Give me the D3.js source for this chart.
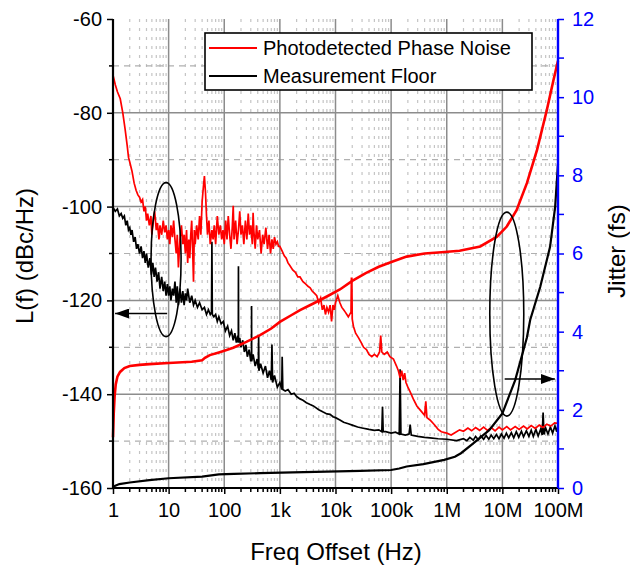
<!DOCTYPE html>
<html lang="en">
<head>
<meta charset="UTF-8">
<title>Phase Noise and Jitter</title>
<script src="https://d3js.org/d3.v7.min.js"></script>
<style>
  body { margin: 0; background: #fff; }
  text { font-family: "Liberation Sans", Arial, sans-serif; }
</style>
</head>
<body>
<script>
// Photodetected phase noise, [Hz, dBc/Hz]
const phaseNoise = [
  [1,-72],[1.1,-74],[1.2,-75.5],[1.35,-77],[1.5,-80],[1.65,-83.5],[1.8,-87],[1.9,-89.5],[2.0,-90.5],
  [2.2,-92.5],[2.4,-95],[2.6,-96.5],[2.8,-97.5],[3.0,-98],[3.2,-99],[3.4,-98.5],[3.6,-101],[3.8,-100],
  [4.0,-103],[4.2,-101.5],[4.5,-104],[4.8,-102],[5.0,-106],[5.3,-103],[5.6,-101],[6.0,-105],[6.3,-103.5],
  [6.7,-107],[7.0,-104],[7.5,-106],[8,-103],[8.5,-105.5],[9,-104],[9.5,-107],[10,-105],[10.5,-108],
  [11,-104],[11.7,-106.5],[12.3,-103],[13,-107],[13.7,-110],[14.3,-106],[15,-113],[16,-107],[17,-104],
  [18,-108],[19,-106],[20,-110],[21,-105],[22,-112],[23,-107],[24,-111],[25,-106],[26,-103],[27,-109],
  [28,-116],[29,-105],[30,-108],[32,-104],[34,-107],[36,-102],[38,-106],[40,-99],[42,-96],[44,-93.5],
  [46,-97],[48,-102],[50,-106],[53,-103],[56,-108],[60,-105],[63,-107],[66,-104],[70,-108],[75,-102],
  [80,-106],[85,-104],[90,-107],[95,-105],[100,-108],[106,-103],[112,-107],[118,-102],[125,-106],
  [132,-109],[140,-104],[145,-99.8],[150,-107],[160,-103],[170,-108],[180,-105],[190,-101],[200,-106],
  [212,-104],[225,-108],[240,-103],[255,-107],[270,-101.5],[285,-106],[300,-104],[320,-108],[330,-101.3],
  [340,-105],[360,-109],[380,-104],[400,-107],[430,-105],[460,-110],[490,-106],[520,-108],[560,-104.5],
  [600,-109],[640,-106],[680,-110],[720,-107],[760,-109],[800,-106.5],[850,-108],[900,-107.5],
  [950,-108.5],[1000,-108.5],[1100,-109.5],[1200,-110.5],[1300,-111],[1400,-112],[1500,-112.5],
  [1700,-113.5],[1900,-114],[2100,-115],[2300,-115],[2600,-116],[2900,-116.5],[3200,-117],[3500,-117.3],
  [3800,-118],[4200,-118.5],[4600,-119],[5000,-120.5],[5400,-119.5],[5800,-122],[6200,-121],[6600,-123],
  [7000,-121.5],[7500,-122.5],[8000,-121],[8500,-124.5],[9000,-121],[9500,-122],[10000,-120.5],
  [11000,-119],[12000,-120.5],[13000,-121.5],[14000,-122],[15000,-122.5],[16000,-123],[17000,-123.5],
  [19000,-122.5],[19300,-115.3],[19700,-115.3],[20000,-124],[21000,-125.5],[23000,-127],[26000,-128],
  [29000,-129],[32000,-130],[36000,-130.5],[40000,-131.5],[45000,-132],[50000,-131.5],[56000,-132],
  [62000,-131],[65000,-127.5],[68000,-131],[75000,-131.5],[85000,-131],[95000,-132],[110000,-132.5],
  [125000,-134],[135000,-135],[145000,-136.5],[155000,-135],[165000,-137],[175000,-135.5],[185000,-137.5],
  [200000,-138.5],[220000,-139.5],[250000,-141],[290000,-142.5],[340000,-143.5],[400000,-144.5],
  [420000,-141.5],[440000,-145],[500000,-145.5],[600000,-146.5],[700000,-147.5],[800000,-148],
  [1e6,-148.3],[1.2e6,-148.7],[1.4e6,-148.2],[1.7e6,-147.6],[2e6,-147.9],[2.4e6,-147.2],[2.8e6,-147.8],
  [3.3e6,-147.1],[3.9e6,-147.7],[4.6e6,-147],[5.4e6,-147.7],[6.3e6,-147.1],[7.4e6,-147.8],[8.7e6,-147],
  [1e7,-147.6],[1.2e7,-146.9],[1.4e7,-147.6],[1.7e7,-146.9],[2e7,-147.5],[2.4e7,-146.8],[2.8e7,-147.4],
  [3.3e7,-146.7],[3.9e7,-147.3],[4.6e7,-146.6],[5.4e7,-147.1],[6.3e7,-146.4],[7.4e7,-146.8],
  [8.7e7,-146.1],[1e8,-146.2]
];

// Measurement floor, [Hz, dBc/Hz]
const floorNoise = [
  [1,-100.2],[1.1,-101],[1.2,-100.5],[1.3,-102],[1.4,-101.5],[1.5,-102.5],[1.6,-102],[1.7,-104],
  [1.8,-103],[1.9,-105],[2.0,-104.5],[2.1,-106],[2.2,-105],[2.35,-107.5],[2.5,-106.5],[2.65,-109],
  [2.8,-108],[3.0,-110],[3.2,-108.5],[3.4,-111],[3.6,-109.5],[3.8,-112],[4.0,-110],[4.3,-113],
  [4.6,-111],[4.9,-114.5],[5.2,-112],[5.5,-115],[5.8,-113],[6.2,-116],[6.6,-114],[7.0,-117.5],
  [7.5,-115],[8,-118],[8.5,-116],[9,-119],[9.5,-116.5],[10,-119],[10.5,-117],[11,-120],[11.7,-117.5],
  [12.3,-119],[13,-116],[13.7,-120.5],[14.3,-117],[15,-121],[16,-117.5],[17,-120.5],[18,-118],
  [19,-121],[20,-118.5],[21,-120],[22,-117.5],[24,-120.5],[26,-119],[28,-121],[30,-120],[33,-121.5],
  [36,-120.5],[40,-122],[44,-121.5],[48,-123],[52,-122],[56,-123],[59,-122.5],[60,-107.5],[61,-123],
  [65,-123.5],[70,-123],[75,-124.5],[80,-123.5],[88,-125],[96,-124.5],[105,-126.5],[115,-125.5],
  [125,-127.5],[135,-126.5],[145,-128.5],[155,-127],[165,-129],[175,-127.5],[179,-129],[180,-112.7],
  [181,-129],[190,-128],[200,-130],[215,-128.5],[230,-131],[245,-129.5],[260,-132],[280,-130.5],
  [300,-133],[309,-131.5],[310,-121.2],[311,-133],[330,-131.5],[360,-134],[390,-132.5],[410,-134.5],
  [415,-127.6],[420,-135],[450,-133.5],[500,-135.5],[550,-134],[600,-136.5],[650,-135],[700,-137],
  [720,-129.4],[740,-137.5],[800,-136],[900,-138.5],[1000,-137.5],[1080,-139],[1100,-132],[1130,-139],
  [1250,-139.3],[1400,-139],[1600,-140],[1800,-139.8],[2000,-140.5],[2300,-141],[2600,-141.3],
  [3000,-141.8],[3500,-142.2],[4000,-142.5],[5000,-143.3],[6000,-143.8],[7000,-144.2],[8000,-144.3],
  [9000,-144.8],[10000,-145],[12000,-145.5],[14000,-146],[17000,-146.3],[20000,-146.6],[25000,-147],
  [30000,-147.2],[40000,-147.5],[50000,-147.7],[60000,-147.6],[68000,-148],[70000,-142.7],[72000,-148],
  [80000,-148],[100000,-148.3],[120000,-148.1],[140000,-148.5],[145000,-134.7],[150000,-148.5],
  [180000,-148.7],[210000,-148.5],[220000,-146.5],[230000,-148.7],[300000,-149],[400000,-149.2],
  [500000,-149.3],[700000,-149.5],[1e6,-149.6],[1.5e6,-149.9],[2e6,-149.5],[2.3e6,-149.9],
  [2.6e6,-149.2],[3e6,-149.8],[3.3e6,-149],[3.7e6,-149.7],[4.1e6,-148.9],[4.6e6,-149.6],[5.1e6,-148.8],
  [5.7e6,-149.6],[6.3e6,-148.7],[7e6,-149.5],[7.8e6,-148.6],[8.7e6,-149.5],[9.6e6,-148.5],
  [1.07e7,-149.4],[1.18e7,-148.3],[1.3e7,-149.3],[1.45e7,-148.2],[1.6e7,-149.3],[1.78e7,-148],
  [1.97e7,-149.2],[2.2e7,-147.9],[2.4e7,-149.1],[2.7e7,-147.8],[3e7,-149],[3.3e7,-147.7],[3.6e7,-149],
  [4e7,-147.5],[4.4e7,-148.9],[4.9e7,-147.4],[5.2e7,-148.7],[5.4e7,-143.9],[5.6e7,-148.6],[6e7,-147.2],
  [6.6e7,-148.5],[7.3e7,-147],[8e7,-148.3],[8.8e7,-146.8],[9.5e7,-148],[1e8,-146.5]
];

// Integrated jitter, [Hz, fs]
const jitterNoise = [
  [1,1.3],[1.03,1.9],[1.07,2.35],[1.12,2.65],[1.2,2.85],[1.34,2.97],[1.6,3.07],[2,3.12],[3,3.15],
  [4.5,3.17],[10,3.2],[26,3.23],[40,3.27],[45,3.33],[55,3.4],[80,3.47],[110,3.53],[145,3.59],
  [250,3.74],[440,3.91],[700,4.08],[1000,4.25],[1600,4.42],[2300,4.55],[4000,4.72],[7000,4.9],
  [12000,5.08],[20000,5.3],[35000,5.5],[60000,5.66],[110000,5.8],[190000,5.92],[400000,6.0],
  [800000,6.03],[1.7e6,6.07],[4e6,6.18],[8e6,6.43],[1.2e7,6.69],[1.8e7,7.11],[2.76e7,7.8],
  [4.2e7,8.65],[6.3e7,9.67],[8.3e7,10.44],[1e8,10.93]
];
const jitterFloor = [
  [1,0.02],[1.1,0.06],[1.3,0.1],[2,0.14],[4.5,0.2],[10,0.25],[40,0.29],[80,0.35],[150,0.36],
  [440,0.38],[1700,0.4],[7000,0.42],[28000,0.44],[100000,0.46],[140000,0.5],[190000,0.55],
  [380000,0.61],[900000,0.72],[1.4e6,0.8],[1.8e6,0.89],[3e6,1.14],[5.8e6,1.48],[1e7,1.91],
  [1.7e7,2.76],[2.76e7,3.85],[3.16e7,4.3],[4.8e7,5.15],[7.2e7,6.17],[8.9e7,7.2],[1e8,8.3]
];

const xLabels = ["1", "10", "100", "1k", "10k", "100k", "1M", "10M", "100M"];
const leftTicks = [-60, -80, -100, -120, -140, -160];
const rightTicks = [0, 2, 4, 6, 8, 10, 12];
const seriesNames = ["Photodetected Phase Noise", "Measurement Floor"];

const width = 630, height = 572;
const x = d3.scaleLog().domain([1, 1e8]).range([113, 558]);
const yL = d3.scaleLinear().domain([-160, -60]).range([488, 19]);
const yR = d3.scaleLinear().domain([0, 12]).range([488, 19]);

const svg = d3.select("body").append("svg")
  .attr("width", width)
  .attr("height", height);

const defs = svg.append("defs");
defs.append("marker")
  .attr("id", "head")
  .attr("viewBox", "0 0 14 10")
  .attr("refX", 14).attr("refY", 5)
  .attr("markerWidth", 14).attr("markerHeight", 10)
  .attr("markerUnits", "userSpaceOnUse")
  .attr("orient", "auto")
  .append("path").attr("d", "M0,0L14,5L0,10Z").attr("fill", "#000");

// grid
const decades = d3.range(0, 9).map(k => Math.pow(10, k));
const minorX = [];
d3.range(0, 8).forEach(k => d3.range(2, 10).forEach(m => minorX.push(m * Math.pow(10, k))));
const grid = svg.append("g");
grid.selectAll(".mx").data(minorX).enter().append("line")
  .attr("x1", d => x(d)).attr("x2", d => x(d))
  .attr("y1", yL(-60)).attr("y2", yL(-160))
  .attr("stroke", "#c4c4c4").attr("stroke-width", 1.2).attr("stroke-dasharray", "3,6");
grid.selectAll(".my").data([-70, -90, -110, -130, -150]).enter().append("line")
  .attr("x1", x(1)).attr("x2", x(1e8))
  .attr("y1", d => yL(d)).attr("y2", d => yL(d))
  .attr("stroke", "#b0b0b0").attr("stroke-width", 1.2).attr("stroke-dasharray", "6,5");
grid.selectAll(".Mx").data(decades.slice(1, 8)).enter().append("line")
  .attr("x1", d => x(d)).attr("x2", d => x(d))
  .attr("y1", yL(-60)).attr("y2", yL(-160))
  .attr("stroke", "#8c8c8c").attr("stroke-width", 1.5);
grid.selectAll(".My").data([-80, -100, -120, -140]).enter().append("line")
  .attr("x1", x(1)).attr("x2", x(1e8))
  .attr("y1", d => yL(d)).attr("y2", d => yL(d))
  .attr("stroke", "#8c8c8c").attr("stroke-width", 1.5);

// curves
const lineL = d3.line().x(d => x(d[0])).y(d => yL(d[1]));
const lineR = d3.line().x(d => x(d[0])).y(d => yR(d[1]));
svg.append("path").datum(floorNoise).attr("d", lineL)
  .attr("fill", "none").attr("stroke", "#000").attr("stroke-width", 1.7);
svg.append("path").datum(phaseNoise).attr("d", lineL)
  .attr("fill", "none").attr("stroke", "#ff0000").attr("stroke-width", 1.7);
svg.append("path").datum(jitterFloor).attr("d", lineR)
  .attr("fill", "none").attr("stroke", "#000").attr("stroke-width", 2.2);
svg.append("path").datum(jitterNoise).attr("d", lineR)
  .attr("fill", "none").attr("stroke", "#ff0000").attr("stroke-width", 2.6);

// annotations: ellipses with arrows pointing to the axis they use
svg.append("ellipse")
  .attr("cx", x(9)).attr("cy", yL(-111.3)).attr("rx", 15).attr("ry", 77)
  .attr("fill", "none").attr("stroke", "#000").attr("stroke-width", 1.6);
svg.append("line")
  .attr("x1", x(9.4)).attr("x2", x(1.09)).attr("y1", yL(-122.8)).attr("y2", yL(-122.8))
  .attr("stroke", "#000").attr("stroke-width", 1.5).attr("marker-end", "url(#head)");
svg.append("ellipse")
  .attr("cx", x(1.2e7)).attr("cy", yR(4.45)).attr("rx", 17).attr("ry", 102)
  .attr("fill", "none").attr("stroke", "#000").attr("stroke-width", 1.6);
svg.append("line")
  .attr("x1", x(1.1e7)).attr("x2", x(8.8e7)).attr("y1", yR(2.79)).attr("y2", yR(2.79))
  .attr("stroke", "#000").attr("stroke-width", 1.5).attr("marker-end", "url(#head)");

// axes
const xAxis = d3.axisBottom(x).tickValues(decades).tickFormat((d, i) => xLabels[i])
  .tickSize(6).tickPadding(9);
const gx = svg.append("g").attr("transform", "translate(0," + yL(-160) + ")").call(xAxis);
gx.selectAll(".minor").data(minorX).enter().append("line").attr("class", "minor")
  .attr("x1", d => x(d)).attr("x2", d => x(d)).attr("y1", 0).attr("y2", 4)
  .attr("stroke", "#000").attr("stroke-width", 1.5);

const gl = svg.append("g").attr("transform", "translate(" + x(1) + ",0)")
  .call(d3.axisLeft(yL).tickValues(leftTicks).tickFormat(d => String(d)).tickSize(6).tickPadding(5));
gl.selectAll(".minor").data([-70, -90, -110, -130, -150]).enter().append("line").attr("class", "minor")
  .attr("x1", -4).attr("x2", 0).attr("y1", d => yL(d)).attr("y2", d => yL(d))
  .attr("stroke", "#000").attr("stroke-width", 1.5);

const gr = svg.append("g").attr("transform", "translate(" + x(1e8) + ",0)")
  .call(d3.axisRight(yR).tickValues(rightTicks).tickSize(6).tickPadding(8));
gr.selectAll(".minor").data([1, 3, 5, 7, 9, 11]).enter().append("line").attr("class", "minor")
  .attr("x1", 0).attr("x2", 6).attr("y1", d => yR(d)).attr("y2", d => yR(d))
  .attr("stroke", "#0000ff").attr("stroke-width", 1.5);

[gx, gl].forEach(g => {
  g.select(".domain").attr("stroke", "#000").attr("stroke-width", 2.2);
  g.selectAll(".tick line").attr("stroke", "#000").attr("stroke-width", 1.5);
  g.selectAll(".tick text").attr("fill", "#000").style("font-size", "20px");
});
gl.select(".domain").attr("d", "M0," + yL(-60) + "V" + yL(-160));
gx.select(".domain").attr("d", "M" + x(1) + ",0H" + x(1e8));
gr.select(".domain").attr("stroke", "#0000ff").attr("stroke-width", 2.4)
  .attr("d", "M0," + yR(12) + "V" + yR(0));
gr.selectAll(".tick line").attr("stroke", "#0000ff").attr("stroke-width", 1.5);
gr.selectAll(".tick text").attr("fill", "#0000ff").style("font-size", "20px");

// axis titles
svg.append("text").attr("x", 336).attr("y", 560).attr("text-anchor", "middle")
  .style("font-size", "24px").text("Freq Offset (Hz)");
svg.append("text").attr("transform", "translate(33,256) rotate(-90)").attr("text-anchor", "middle")
  .style("font-size", "24px").text("L(f) (dBc/Hz)");
svg.append("text").attr("transform", "translate(625,251) rotate(-90)").attr("text-anchor", "middle")
  .style("font-size", "24px").text("Jitter (fs)");

// legend
const legend = svg.append("g");
legend.append("rect").attr("x", 205).attr("y", 33).attr("width", 327).attr("height", 57)
  .attr("fill", "#fff").attr("stroke", "#000").attr("stroke-width", 1.6);
const colors = ["#ff0000", "#000"];
seriesNames.forEach((name, i) => {
  const ly = 48 + i * 28;
  legend.append("line").attr("x1", 209).attr("x2", 257).attr("y1", ly).attr("y2", ly)
    .attr("stroke", colors[i]).attr("stroke-width", 2);
  legend.append("text").attr("x", 263).attr("y", ly + 7).style("font-size", "20px").text(name);
});
</script>
</body>
</html>
